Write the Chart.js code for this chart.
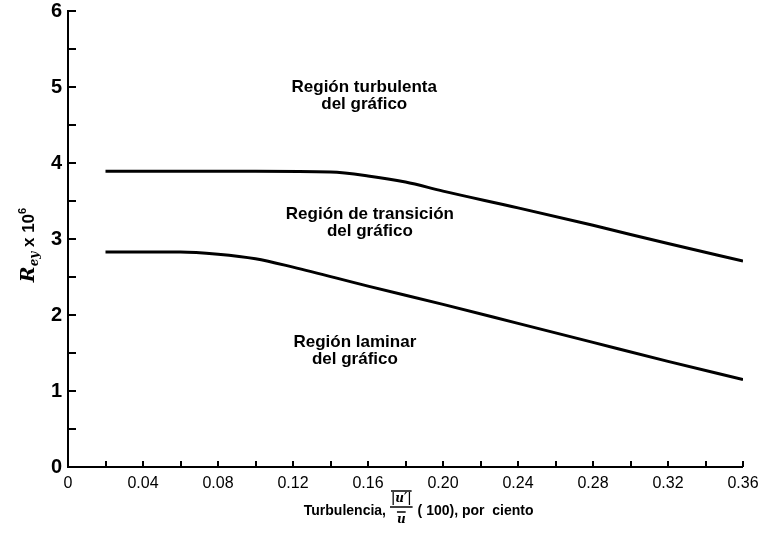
<!DOCTYPE html>
<html><head><meta charset="utf-8">
<script src="https://cdn.jsdelivr.net/npm/chart.js@4/dist/chart.umd.min.js"></script>
<style>html,body{margin:0;padding:0;background:#fff}#wrap{width:761px;height:533px;position:relative}</style>
</head><body><div id="wrap"><canvas id="c" width="761" height="533"></canvas></div>
<script>
// ---- data ----
const upperX   = [0.02, 0.06, 0.10, 0.14, 0.16, 0.18, 0.20, 0.24, 0.28, 0.32, 0.36];
const upperRey = [3.89, 3.89, 3.89, 3.88, 3.83, 3.75, 3.63, 3.41, 3.18, 2.94, 2.71];
const lowerX   = [0.02, 0.06, 0.08, 0.10, 0.12, 0.16, 0.20, 0.24, 0.28, 0.32, 0.36];
const lowerRey = [2.83, 2.83, 2.80, 2.74, 2.63, 2.38, 2.14, 1.89, 1.64, 1.39, 1.15];
const xTickLabels = ["0", "0.04", "0.08", "0.12", "0.16", "0.20", "0.24", "0.28", "0.32", "0.36"];
const yTickLabels = ["0", "1", "2", "3", "4", "5", "6"];
const regionLines = [
  ["Región turbulenta", "del gráfico"],
  ["Región de transición", "del gráfico"],
  ["Región laminar", "del gráfico"]
];
// anchor positions (data units) for region labels — layout only
const regionAnchors = [[0.158, 4.99], [0.161, 3.33], [0.153, 1.64]];

const toPts = (xs, ys) => xs.map((x, i) => ({x: x, y: ys[i]}));

const FONT = "'Liberation Sans', Arial, Helvetica, sans-serif";

const decor = {
  id: 'decor',
  afterDraw(chart) {
    const {ctx, scales: {x, y}} = chart;
    ctx.save();
    ctx.strokeStyle = '#000';
    ctx.lineWidth = 2;
    // inward tick marks
    x.ticks.forEach(t => {
      const px = Math.round(x.getPixelForValue(t.value));
      if (t.value <= 0) return;
      ctx.beginPath(); ctx.moveTo(px, y.bottom); ctx.lineTo(px, y.bottom - 6); ctx.stroke();
    });
    y.ticks.forEach(t => {
      const py = Math.round(y.getPixelForValue(t.value));
      if (t.value <= 0) return;
      ctx.beginPath(); ctx.moveTo(x.left, py); ctx.lineTo(x.left + 8, py); ctx.stroke();
    });
    // region labels
    ctx.fillStyle = '#000';
    ctx.font = 'bold 17px ' + FONT;
    ctx.textAlign = 'center';
    ctx.textBaseline = 'middle';
    regionLines.forEach((lines, i) => {
      const cx = x.getPixelForValue(regionAnchors[i][0]);
      const cy = y.getPixelForValue(regionAnchors[i][1]);
      lines.forEach((s, k) => ctx.fillText(s, cx, cy + k * 17));
    });

    // y-axis title: R_ey x 10^6 (rotated)
    ctx.save();
    ctx.translate(34, 245);
    ctx.rotate(-Math.PI / 2);
    ctx.textAlign = 'left';
    ctx.textBaseline = 'alphabetic';
    const parts = [
      {t: 'R', f: 'italic bold 19px "DejaVu Serif", serif', dy: 0},
      {t: 'ey', f: 'italic bold 12px "DejaVu Serif", serif', dy: 4},
      {t: ' x 10', f: 'bold 17px ' + FONT, dy: 0},
      {t: '6', f: 'bold 11px ' + FONT, dy: -8}
    ];
    let w = 0;
    parts.forEach(p => { ctx.font = p.f; p.w = ctx.measureText(p.t).width; w += p.w; });
    let px = -w / 2;
    parts.forEach(p => { ctx.font = p.f; ctx.fillText(p.t, px, p.dy); px += p.w; });
    ctx.restore();

    // x-axis title with fraction
    ctx.textBaseline = 'alphabetic';
    const base = 515;
    ctx.font = 'bold 14px ' + FONT;
    ctx.textAlign = 'right';
    ctx.fillText('Turbulencia,', 386, base);
    ctx.textAlign = 'left';
    let sx = 391;
    ctx.font = 'italic bold 12px "DejaVu Serif", serif';
    const num = '|u′|';
    const nw = ctx.measureText(num).width;
    ctx.fillText(num, sx, 502);
    ctx.lineWidth = 1.5;
    ctx.beginPath(); ctx.moveTo(sx, 491); ctx.lineTo(sx + nw, 491); ctx.stroke();
    ctx.beginPath(); ctx.moveTo(sx - 1, 507); ctx.lineTo(sx + nw + 1, 507); ctx.stroke();
    const dw = ctx.measureText('u').width;
    const dx = sx + (nw - dw) / 2;
    ctx.fillText('u', dx, 523);
    ctx.beginPath(); ctx.moveTo(dx, 512); ctx.lineTo(dx + dw, 512); ctx.stroke();
    ctx.font = 'bold 14px ' + FONT;
    ctx.fillText('( 100), por  ciento', sx + nw + 6, base);
    ctx.restore();
  }
};

new Chart(document.getElementById('c'), {
  type: 'line',
  data: {
    datasets: [
      {label: 'Límite superior', data: toPts(upperX, upperRey)},
      {label: 'Límite inferior', data: toPts(lowerX, lowerRey)}
    ]
  },
  options: {
    responsive: false,
    animation: false,
    devicePixelRatio: 1,
    layout: {padding: {top: 11, right: 18, left: 0, bottom: 0}},
    elements: {
      line: {borderColor: '#000', borderWidth: 3, tension: 0, cubicInterpolationMode: 'monotone', fill: false},
      point: {radius: 0, hoverRadius: 0}
    },
    plugins: {legend: {display: false}, tooltip: {enabled: false}},
    scales: {
      x: {
        type: 'linear', min: 0, max: 0.36,
        afterFit: s => { s.height = 66; s.paddingLeft = 0; s.paddingRight = 0; },
        afterBuildTicks: s => {
          const t = [];
          for (let i = 0; i <= 18; i++) t.push({value: +(i * 0.02).toFixed(2)});
          s.ticks = t;
        },
        ticks: {
          autoSkip: false, maxRotation: 0, color: '#000', padding: 7,
          font: {family: FONT, size: 16},
          callback: v => { const l = xTickLabels.find(s => Math.abs(Number(s) - v) < 1e-6); return l === undefined ? '' : l; }
        },
        grid: {drawOnChartArea: false, drawTicks: false, lineWidth: 0},
        border: {display: true, color: '#000', width: 2}
      },
      y: {
        type: 'linear', min: 0, max: 6,
        afterFit: s => { s.width = 68; s.paddingTop = 0; s.paddingBottom = 0; },
        ticks: {
          stepSize: 0.5, autoSkip: false, color: '#000', padding: 6,
          font: {family: FONT, size: 20, weight: 'bold', lineHeight: 1},
          callback: v => { const l = yTickLabels.find(s => Math.abs(Number(s) - v) < 1e-6); return l === undefined ? '' : l; }
        },
        grid: {drawOnChartArea: false, drawTicks: false, lineWidth: 0},
        border: {display: true, color: '#000', width: 2}
      }
    }
  },
  plugins: [decor]
});
</script>
</body></html>
